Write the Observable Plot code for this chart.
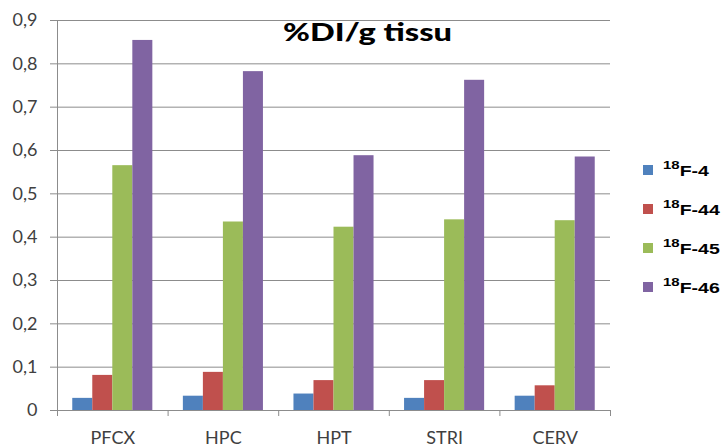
<!DOCTYPE html>
<html>
<head>
<meta charset="utf-8">
<script src="https://cdn.jsdelivr.net/npm/d3@7"></script>
<script src="https://cdn.jsdelivr.net/npm/@observablehq/plot@0.6"></script>
<style>
  body { margin: 0; background: #fff; }
  #wrap { position: relative; width: 725px; height: 447px; overflow: hidden; background: #fff; }
  #chart { position: absolute; left: 0; top: 0; }
  #title { position: absolute; top: 19px; left: 283px; white-space: nowrap;
           font: 900 25px Lato, sans-serif; line-height: 25px; color: #000; transform-origin: left top; }
  .lg { position: absolute; left: 643px; height: 20px; }
  .sw { position: absolute; left: 0; width: 10px; height: 10px; }
  .lt { position: absolute; left: 20px; white-space: nowrap; font: bold 15px "Liberation Sans", Arial, sans-serif;
        line-height: 15px; color: #000; transform-origin: left top; transform: scaleX(1.3); }
  .lt sup { font-size: 11.5px; position: relative; top: -1px; vertical-align: super; line-height: 0; }
</style>
</head>
<body>
<div id="wrap">
  <div id="chart"></div>
  <div id="title">%DI/g tissu</div>
  <div id="legend"></div>
</div>
<script>
// ---- data ----
const categories = ["PFCX", "HPC", "HPT", "STRI", "CERV"];
const seriesNames = ["18F-4", "18F-44", "18F-45", "18F-46"];
const f4  = [0.028, 0.033, 0.038, 0.028, 0.033];
const f44 = [0.081, 0.088, 0.069, 0.069, 0.057];
const f45 = [0.565, 0.435, 0.423, 0.440, 0.438];
const f46 = [0.854, 0.782, 0.588, 0.762, 0.585];
const colors = ["#4F81BD", "#C0504D", "#9BBB59", "#8064A2"];
const yTicks = [0, 0.1, 0.2, 0.3, 0.4, 0.5, 0.6, 0.7, 0.8, 0.9];

// ---- table ----
const valuesBySeries = [f4, f44, f45, f46];
const data = [];
categories.forEach((c, ci) => {
  seriesNames.forEach((s, si) => {
    data.push({category: c, ci, series: s, si, value: valuesBySeries[si][ci]});
  });
});

// grouping within each category slot (slot = 1 unit on x)
const groupPad = 0.138;
const barW = (1 - 2 * groupPad) / seriesNames.length;

const grid = "#8c8c8c";
const chart = Plot.plot({
  width: 725,
  height: 447,
  marginLeft: 57,
  marginRight: 115,
  marginTop: 20,
  marginBottom: 37,
  style: {fontFamily: "Lato, sans-serif", fontSize: "18px", color: "#404040", background: "transparent", overflow: "visible"},
  x: {domain: [0, categories.length], label: null},
  y: {domain: [0, 0.9], label: null},
  color: {domain: seriesNames, range: colors},
  marks: [
    Plot.gridY({ticks: yTicks, stroke: grid, strokeOpacity: 1}),
    Plot.rectY(data, {
      x1: d => d.ci + groupPad + d.si * barW,
      x2: d => d.ci + groupPad + (d.si + 1) * barW,
      y1: 0,
      y2: "value",
      fill: "series"
    }),
    Plot.ruleY([0], {stroke: grid}),
    Plot.ruleX([0], {y1: 0, y2: 0.9, stroke: grid}),
    Plot.axisY({ticks: yTicks, tickSize: 7, tickPadding: 13, stroke: grid, label: null,
      tickFormat: d => d === 0 ? "0" : d3.format(".1f")(d).replace(".", ",")}),
    Plot.axisX({ticks: d3.range(categories.length + 1), tickSize: 6, stroke: grid, label: null, tickFormat: () => ""}),
    Plot.axisX({ticks: categories.map((c, i) => i + 0.5), tickSize: 0, tickPadding: 21, label: null,
      tickFormat: d => categories[Math.floor(d)]})
  ]
});
document.getElementById("chart").appendChild(chart);

// title width fit
const t = document.getElementById("title");
const tw = t.getBoundingClientRect().width;
t.style.transform = `scaleX(${169 / tw})`;

// legend
const legend = document.getElementById("legend");
const baselines = [175.7, 214.7, 253.7, 292.7];
seriesNames.forEach((s, i) => {
  const row = document.createElement("div");
  row.className = "lg";
  row.style.top = (baselines[i] - 12.7) + "px";
  const sw = document.createElement("div");
  sw.className = "sw";
  sw.style.background = colors[i];
  sw.style.top = "2px";
  const lt = document.createElement("div");
  lt.className = "lt";
  lt.innerHTML = "<sup>" + s.slice(0, 2) + "</sup>" + s.slice(2);
  row.appendChild(sw);
  row.appendChild(lt);
  legend.appendChild(row);
});
</script>
</body>
</html>
